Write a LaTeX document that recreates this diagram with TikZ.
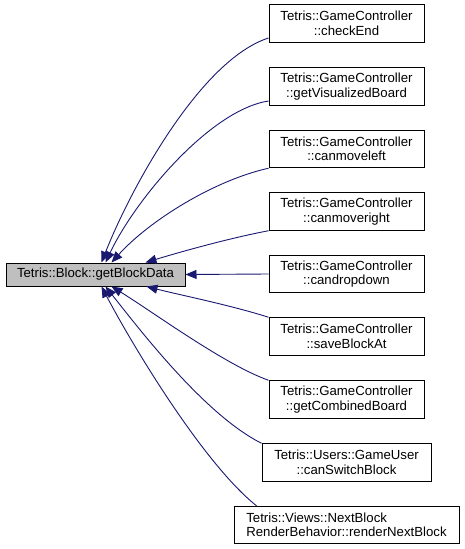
\documentclass[tikz,border=0pt]{standalone}
\usepackage{fontspec}
\setmainfont{Liberation Sans}
\usetikzlibrary{arrows.meta}
\definecolor{edgeblue}{HTML}{191970}
\definecolor{boxgray}{HTML}{BFBFBF}
\begin{document}
\begin{tikzpicture}[x=1pt,y=-1pt,
  fn/.style={draw=black,line width=1pt,fill=white,inner sep=0pt,align=center,
    font=\fontsize{13.2}{14.5}\selectfont,minimum height=37.5pt},
  mainbox/.style={fn,fill=boxgray,minimum height=23pt,minimum width=179pt},
  edge/.style={draw=edgeblue,line width=0.9pt,-{Triangle[length=11pt,width=9pt]}}]
\useasboundingbox (0,0) rectangle (464,549);
\node[mainbox] (m) at (95.5,274.5) {Tetris::Block::getBlockData};
\node[fn,minimum width=155pt] (n1) at (346.5,23.5) {Tetris::GameController\\::checkEnd};
\node[fn,minimum width=155pt] (n2) at (346.5,86.5) {Tetris::GameController\\::getVisualizedBoard};
\node[fn,minimum width=155pt] (n3) at (346.5,149) {Tetris::GameController\\::canmoveleft};
\node[fn,minimum width=155pt] (n4) at (346.5,211.5) {Tetris::GameController\\::canmoveright};
\node[fn,minimum width=155pt] (n5) at (346.5,274) {Tetris::GameController\\::candropdown};
\node[fn,minimum width=155pt] (n6) at (346.5,336.5) {Tetris::GameController\\::saveBlockAt};
\node[fn,minimum width=155pt] (n7) at (346.5,399.5) {Tetris::GameController\\::getCombinedBoard};
\node[fn,minimum width=169pt] (n8) at (346.5,462.5) {Tetris::Users::GameUser\\::canSwitchBlock};
\node[fn,minimum width=225pt,align=left] (n9) at (346.5,525) {Tetris::Views::NextBlock\\RenderBehavior::renderNextBlock};
\path[edge] ([yshift=-14.5pt]n1.west) .. controls (200,60) and (130,190) .. ([xshift=96pt]m.north west);
\path[edge] ([yshift=-14.5pt]n2.west) .. controls (210,110) and (135,200) .. ([xshift=100pt]m.north west);
\path[edge] (n3.south west) .. controls (215,180) and (150,220) .. ([xshift=106pt]m.north west);
\path[edge] (n4.south west) .. controls (230,238) and (180,252) .. ([xshift=140pt]m.north west);
\path[edge] (n5.west) -- (m.east);
\path[edge] (n6.north west) .. controls (230,305) and (180,295) .. ([xshift=141pt]m.south west);
\path[edge] (n7.north west) .. controls (225,365) and (150,310) .. ([xshift=106pt]m.south west);
\path[edge] (n8.north west) .. controls (205,415) and (140,330) .. ([xshift=100pt]m.south west);
\path[edge] ([xshift=23pt]n9.north west) .. controls (205,465) and (135,350) .. ([xshift=96pt]m.south west);
\end{tikzpicture}
\end{document}
